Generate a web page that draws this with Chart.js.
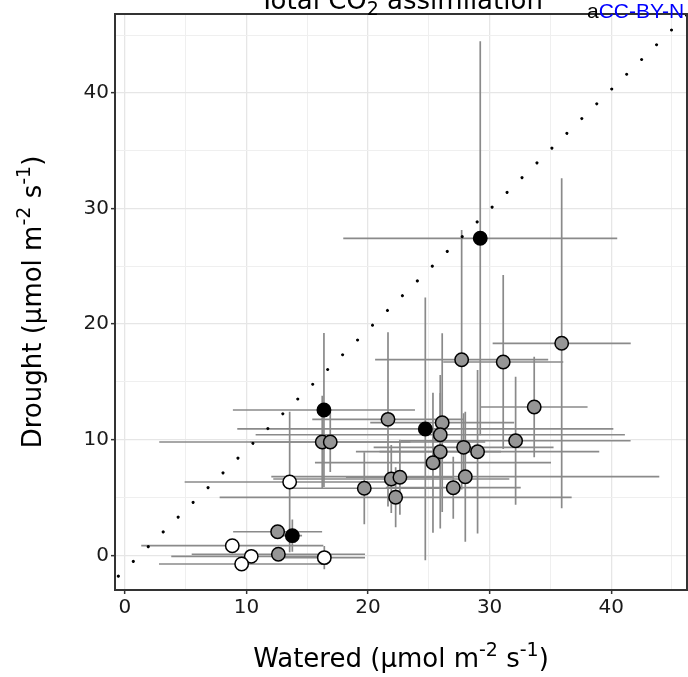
<!DOCTYPE html>
<html lang="en">
<head>
<meta charset="UTF-8">
<title>Total CO2 assimilation</title>
<style>
  html, body { margin: 0; padding: 0; background: #fff; }
  #wrap { width: 688px; height: 677px; }
</style>
</head>
<body>
<div id="wrap"><canvas id="co2-chart" width="688" height="677"></canvas></div>
<script src="https://cdn.jsdelivr.net/npm/chart.js"></script>
<script>
// values (µmol m-2 s-1)
const greyWatered = [12.56, 12.62, 16.23, 16.89, 19.69, 21.64, 26.10, 25.94, 27.86, 29.01, 32.14, 25.94, 25.34, 21.91, 22.62, 22.27, 28.00, 27.01, 27.70, 31.12, 35.93, 33.67];
const greyDrought = [2.04, 0.09, 9.80, 9.80, 5.80, 11.76, 11.47, 10.43, 9.34, 8.96, 9.91, 8.96, 8.01, 6.60, 6.75, 5.02, 6.80, 5.85, 16.92, 16.72, 18.34, 12.83];
const greyWateredErr = [3.66, 7.13, 13.41, 6.6, 6.38, 6.23, 5.92, 15.19, 7.4, 10.01, 9.46, 5.0, 9.71, 9.71, 4.44, 14.48, 15.96, 5.55, 7.12, 4.94, 5.68, 4.39];
const greyDroughtErr = [0.3, 0.3, 4.0, 2.6, 3.11, 7.53, 7.73, 3.61, 2.94, 7.07, 5.54, 6.63, 6.06, 2.94, 3.24, 2.6, 5.62, 2.68, 11.22, 7.53, 14.27, 4.35];

const blackWatered = [29.23, 16.37, 13.77, 24.71];
const blackDrought = [27.42, 12.57, 1.70, 10.93];
const blackWateredErr = [11.27, 7.49, 0.8, 15.47];
const blackDroughtErr = [17.04, 6.66, 1.4, 11.36];

const whiteWatered = [8.83, 10.39, 9.60, 16.40, 13.55];
const whiteDrought = [0.83, -0.09, -0.75, -0.20, 6.34];
const whiteWateredErr = [7.49, 6.58, 6.80, 3.35, 8.64];
const whiteDroughtErr = [0.3, 0.3, 0.3, 1.0, 6.08];

// dotted reference line, ends at the panel edges
const refLine = [{x: -0.82, y: -2.09}, {x: 46.24, y: 46.76}];

const xTicks = [0, 5, 10, 15, 20, 25, 30, 35, 40, 45];
const yTicks = [0, 5, 10, 15, 20, 25, 30, 35, 40, 45];

const FONT = '"DejaVu Sans", Verdana, sans-serif';

const groups = [
    {x: greyWatered, y: greyDrought, xe: greyWateredErr, ye: greyDroughtErr},
    {x: blackWatered, y: blackDrought, xe: blackWateredErr, ye: blackDroughtErr},
    {x: whiteWatered, y: whiteDrought, xe: whiteWateredErr, ye: whiteDroughtErr}
];

function toPoints(xs, ys) {
    return xs.map((v, i) => ({x: v, y: ys[i]}));
}

// text with super/subscripts, parts = [[text, shift]] shift 1 = sup, -1 = sub
function richText(ctx, parts, size, x, y) {
    const big = size + 'px ' + FONT;
    const small = Math.round(size * 0.72) + 'px ' + FONT;
    let w = 0;
    parts.forEach(p => {
        ctx.font = p[1] ? small : big;
        w += ctx.measureText(p[0]).width;
    });
    let cx = x - w / 2;
    ctx.textAlign = 'left';
    ctx.textBaseline = 'alphabetic';
    parts.forEach(p => {
        ctx.font = p[1] ? small : big;
        let dy = 0;
        if (p[1] === 1) dy = -size * 0.42;
        if (p[1] === -1) dy = size * 0.24;
        ctx.fillText(p[0], cx, y + dy);
        cx += ctx.measureText(p[0]).width;
    });
}

const errorBars = {
    id: 'errorBars',
    beforeDatasetsDraw(chart) {
        const {ctx, chartArea: a, scales: {x, y}} = chart;
        ctx.save();
        ctx.beginPath();
        ctx.rect(a.left, a.top, a.right - a.left, a.bottom - a.top);
        ctx.clip();
        ctx.strokeStyle = '#8a8a8a';
        ctx.lineWidth = 1.7;
        groups.forEach(g => {
            g.x.forEach((xv, i) => {
                const px = x.getPixelForValue(xv);
                const py = y.getPixelForValue(g.y[i]);
                ctx.beginPath();
                ctx.moveTo(x.getPixelForValue(xv - g.xe[i]), py);
                ctx.lineTo(x.getPixelForValue(xv + g.xe[i]), py);
                ctx.moveTo(px, y.getPixelForValue(g.y[i] - g.ye[i]));
                ctx.lineTo(px, y.getPixelForValue(g.y[i] + g.ye[i]));
                ctx.stroke();
            });
        });
        ctx.restore();
    },
    afterDraw(chart) {
        const {ctx, chartArea: a} = chart;
        ctx.save();
        // panel border
        ctx.strokeStyle = '#333';
        ctx.lineWidth = 2;
        ctx.strokeRect(a.left, a.top, a.right - a.left, a.bottom - a.top);

        ctx.fillStyle = '#000';
        // title, cut at the top like the original
        richText(ctx, [['Total CO', 0], ['2', -1], [' assimilation', 0]], 26, (a.left + a.right) / 2, 9);
        // axis titles
        richText(ctx, [['Watered (\u00b5mol m', 0], ['-2', 1], [' s', 0], ['-1', 1], [')', 0]], 26, (a.left + a.right) / 2, 667);
        ctx.save();
        ctx.translate(40.5, (a.top + a.bottom) / 2);
        ctx.rotate(-Math.PI / 2);
        richText(ctx, [['Drought (\u00b5mol m', 0], ['-2', 1], [' s', 0], ['-1', 1], [')', 0]], 26, 0, 0);
        ctx.restore();

        // licence stamp in the corner
        ctx.font = '21px "Liberation Sans", Arial, sans-serif';
        ctx.textAlign = 'left';
        ctx.textBaseline = 'alphabetic';
        ctx.fillStyle = '#000';
        ctx.fillText('a', 587, 18);
        const aw = ctx.measureText('a').width;
        ctx.fillStyle = '#0000ff';
        ctx.fillText('CC-BY-N', 587 + aw, 18);
        ctx.restore();
    }
};

function axis(ticks, fitFn) {
    return {
        type: 'linear',
        afterBuildTicks: s => { s.ticks = ticks.map(v => ({value: v})); },
        afterFit: fitFn,
        border: {display: false},
        grid: {
            color: c => (c.tick && c.tick.value % 10 === 0) ? '#e6e6e6' : '#efefef',
            lineWidth: c => (c.tick && c.tick.value % 10 === 0) ? 1.3 : 1,
            tickColor: c => (c.tick && c.tick.value % 10 === 0) ? '#333' : 'rgba(0,0,0,0)',
            tickLength: 4,
            tickWidth: 1.5
        },
        ticks: {
            autoSkip: false,
            maxRotation: 0,
            padding: 2,
            color: '#1a1a1a',
            font: {family: FONT, size: 20},
            callback: v => (v % 10 === 0 ? String(v) : '')
        }
    };
}

const xAxis = axis(xTicks, s => {
    s.height = 87;
    s.paddingLeft = 0;
    s.paddingRight = 0;
});
xAxis.min = -0.82;
xAxis.max = 46.24;
const yAxis = axis(yTicks, s => {
    s.width = 115;
    s.paddingTop = 0;
    s.paddingBottom = 0;
});
yAxis.min = -3.0;
yAxis.max = 46.82;

const pointStyle = fill => ({
    backgroundColor: fill,
    borderColor: '#000',
    borderWidth: 1.5,
    pointRadius: 6.7,
    pointHoverRadius: 6.7
});

new Chart(document.getElementById('co2-chart'), {
    type: 'scatter',
    data: {
        datasets: [
            Object.assign({label: 'white', data: toPoints(whiteWatered, whiteDrought), order: 1}, pointStyle('#ffffff')),
            Object.assign({label: 'black', data: toPoints(blackWatered, blackDrought), order: 2}, pointStyle('#000000')),
            Object.assign({label: 'grey', data: toPoints(greyWatered, greyDrought), order: 3}, pointStyle('#969696')),
            {
                label: 'reference',
                data: refLine,
                showLine: true,
                borderColor: '#000',
                borderWidth: 3,
                borderDash: [0.01, 21],
                borderDashOffset: 16.3,
                borderCapStyle: 'round',
                pointRadius: 0,
                order: 4
            }
        ]
    },
    options: {
        responsive: false,
        animation: false,
        devicePixelRatio: 1,
        layout: {autoPadding: false, padding: {top: 14, right: 1, left: 0, bottom: 0}},
        plugins: {
            legend: {display: false},
            tooltip: {enabled: false},
            title: {display: false}
        },
        scales: {x: xAxis, y: yAxis}
    },
    plugins: [errorBars]
});
</script>
</body>
</html>
